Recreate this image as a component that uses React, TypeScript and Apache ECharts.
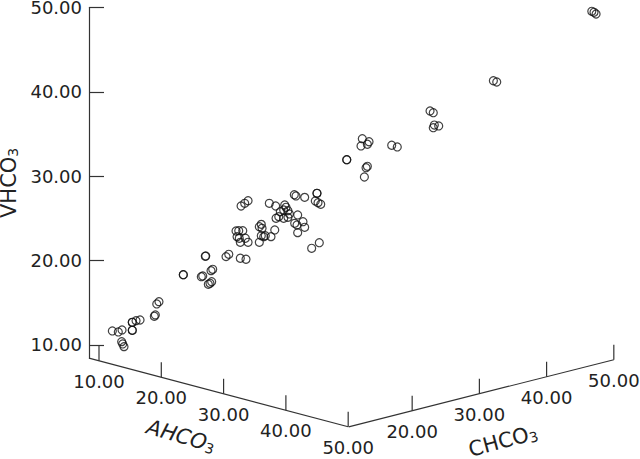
import React, { useEffect, useRef } from "react";
import * as echarts from "echarts";

// Horizontal position along the floor diagonal (mean of AHCO3 and CHCO3)
const meanAC = [
  11.03, 11.49, 11.78, 12.57, 12.57, 12.57, 12.57, 12.86, 13.17, 11.75, 11.83, 11.93, 14.27, 14.35, 14.46, 14.63,
  16.51, 16.51, 17.9, 18.01, 18.65, 18.78, 18.44, 18.57, 18.7, 18.21, 18.24, 19.81, 20.02, 20.91, 21.35,
  20.58, 20.79, 21.1, 20.66, 20.83, 21.3, 20.91, 21.51,
  22.53, 22.38, 22.59, 22.53, 22.72, 22.84, 23.28, 23.57, 22.38,
  20.97, 21.25, 21.51, 23.15, 23.64, 24.34, 24.44, 24.0, 24.26, 24.59, 24.7, 23.88, 23.67, 24.26, 24.59,
  25.34, 25.11, 25.29, 25.75, 25.88, 25.34, 25.08, 25.21, 25.88, 26.83, 26.83, 26.7, 26.91, 27.12, 27.01, 26.42,
  29.13, 29.13, 30.33, 30.23, 30.85, 30.72, 30.62, 30.72, 30.49, 32.6, 33.03,
  35.56, 35.81, 35.89, 36.23, 35.81, 40.45, 40.71, 48.05, 48.22, 48.38,
];
const vhco3 = [
  11.66, 11.54, 11.78, 12.69, 12.69, 11.74, 11.74, 12.88, 12.96, 10.39, 10.12, 9.8, 13.4, 13.56, 14.86, 15.13,
  18.33, 18.33, 18.09, 18.18, 18.81, 18.97, 17.19, 17.31, 17.5, 20.51, 20.55, 20.47, 20.75, 20.28, 20.16,
  23.51, 23.55, 23.55, 22.84, 22.65, 22.65, 22.17, 22.17,
  24.3, 24.02, 23.83, 22.95, 22.84, 22.95, 22.84, 23.63, 22.17,
  26.47, 26.79, 27.1, 26.79, 26.47, 26.59, 26.32, 25.8, 26.0, 25.92, 25.53, 25.21, 25.02, 25.02, 25.13,
  25.41, 24.42, 24.22, 24.61, 23.95, 23.31, 27.81, 27.66, 27.5, 27.98, 27.98, 27.07, 26.87, 26.68, 22.12, 21.46,
  31.96, 31.96, 34.45, 33.59, 34.09, 33.79, 31.01, 31.18, 29.91, 33.67, 33.47,
  37.73, 37.53, 36.07, 35.96, 35.75, 41.32, 41.17, 49.55, 49.43, 49.23,
];
const vTicks = [10, 20, 30, 40, 50];
const aTicks = [10, 20, 30, 40, 50];
const cTicks = [20, 30, 40, 50];

const FONT = "DejaVu Sans";
const INK = "#222222";
const LINE = "#333333";

// Oblique projection of the two floor axes into the chart's (mean, V) coordinates
const aPoint = (a: number) => [10 + 0.481 * (a - 10), 8.127 - 0.1956 * (a - 10)];
const cPoint = (c: number) => [28.99 + 0.519 * (c - 10), 0.19 + 0.2015 * (c - 10)];

const floorTicks = (ticks: number[], point: (n: number) => number[], z: number) => ({
  type: "custom",
  silent: true,
  z,
  data: ticks.map(point),
  renderItem: (params: any, api: any) => {
    const [x, y] = api.coord([api.value(0), api.value(1)]);
    return {
      type: "group",
      children: [
        { type: "line", shape: { x1: x, y1: y, x2: x, y2: y - 15 }, style: { stroke: LINE, lineWidth: 1.2 } },
        {
          type: "text",
          x,
          y: y + 20.5,
          style: {
            text: ticks[params.dataIndex].toFixed(2),
            fill: INK,
            fontFamily: FONT,
            fontSize: 18,
            align: "center",
            verticalAlign: "middle",
          },
        },
      ],
    };
  },
});

const sub = { s: { fontFamily: FONT, fontSize: 14, fill: INK, color: INK, verticalAlign: "bottom", padding: [8, 0, 0, 0] } };

export default function App() {
  const ref = useRef<HTMLDivElement>(null);
  useEffect(() => {
    document.body.style.margin = "0";
    const chart = echarts.init(ref.current!, undefined, { renderer: "svg" });
    chart.setOption({
      animation: false,
      backgroundColor: "#ffffff",
      grid: { left: 89, right: 26.7, top: 7.5, bottom: 100.7, outerBoundsMode: "none" },
      xAxis: { type: "value", show: false, min: 9.228, max: 49.71 },
      yAxis: {
        type: "value",
        min: 8.42,
        max: 50,
        splitLine: { show: false },
        axisLine: { show: true, onZero: false, lineStyle: { color: LINE, width: 1.2 } },
        axisTick: { show: true, inside: true, length: 15, customValues: vTicks, lineStyle: { color: LINE, width: 1.2 } },
        axisLabel: {
          customValues: vTicks,
          margin: 7,
          fontFamily: FONT,
          fontSize: 18,
          color: INK,
          formatter: (v: number) => v.toFixed(2),
        },
        name: "VHCO{s|3}",
        nameLocation: "middle",
        nameGap: 66,
        nameRotate: 90,
        nameTextStyle: {
          fontFamily: FONT,
          fontSize: 21,
          color: INK,
          rich: { s: { fontFamily: FONT, fontSize: 14, color: INK, verticalAlign: "bottom", padding: [8, 0, 0, 0] } },
        },
      },
      series: [
        {
          type: "line",
          silent: true,
          clip: false,
          symbol: "none",
          lineStyle: { color: LINE, width: 1.2 },
          data: [aPoint(8.39), aPoint(50)],
        },
        {
          type: "line",
          silent: true,
          clip: false,
          symbol: "none",
          lineStyle: { color: LINE, width: 1.2 },
          data: [cPoint(10.55), cPoint(50)],
        },
        floorTicks(aTicks, aPoint, 2),
        floorTicks(cTicks, cPoint, 2),
        {
          type: "scatter",
          silent: true,
          clip: false,
          z: 5,
          symbol: "circle",
          symbolSize: 8,
          itemStyle: { color: "rgba(0,0,0,0)", borderColor: "#111111", borderWidth: 1.2 },
          data: meanAC.map((m, i) => [m, vhco3[i]]),
        },
      ],
      graphic: [
        {
          type: "text",
          x: 181,
          y: 436,
          rotation: (-16 * Math.PI) / 180,
          style: {
            text: "AHCO{s|3}",
            fill: INK,
            fontFamily: FONT,
            fontSize: 21,
            fontStyle: "italic",
            align: "center",
            verticalAlign: "middle",
            rich: sub,
          },
        },
        {
          type: "text",
          x: 503,
          y: 441,
          rotation: (15 * Math.PI) / 180,
          style: {
            text: "CHCO{s|3}",
            fill: INK,
            fontFamily: FONT,
            fontSize: 21,
            align: "center",
            verticalAlign: "middle",
            rich: sub,
          },
        },
      ],
    });
    return () => chart.dispose();
  }, []);
  return <div ref={ref} style={{ position: "absolute", left: 0, top: 0, width: 640, height: 459 }} />;
}
